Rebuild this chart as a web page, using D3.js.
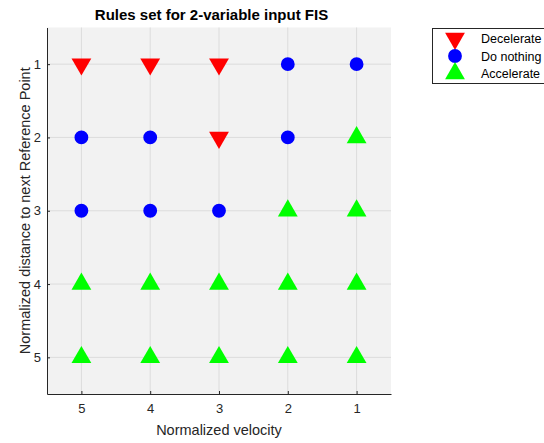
<!DOCTYPE html>
<html>
<head>
<meta charset="utf-8">
<script src="https://cdn.jsdelivr.net/npm/d3@7"></script>
<style>
  html, body { margin: 0; padding: 0; background: #ffffff; }
  svg { display: block; font-family: "Liberation Sans", Arial, sans-serif; }
</style>
</head>
<body>
<svg id="chart" width="544" height="443"></svg>
<script>
// Rule base: rows are distance levels, columns are velocity levels
const velocityLevels = [5, 4, 3, 2, 1];
const distanceLevels = [1, 2, 3, 4, 5];
const actions = ["Decelerate", "Do nothing", "Accelerate"];
// action per (distance row, velocity column in velocityLevels order)
const ruleRows = [
  ["Decelerate", "Decelerate", "Decelerate", "Do nothing", "Do nothing"],
  ["Do nothing", "Do nothing", "Decelerate", "Do nothing", "Accelerate"],
  ["Do nothing", "Do nothing", "Do nothing", "Accelerate", "Accelerate"],
  ["Accelerate", "Accelerate", "Accelerate", "Accelerate", "Accelerate"],
  ["Accelerate", "Accelerate", "Accelerate", "Accelerate", "Accelerate"]
];
const actionColors = ["#ff0000", "#0000ff", "#00ff00"];

const rules = [];
distanceLevels.forEach((d, i) => {
  velocityLevels.forEach((v, j) => {
    rules.push({ velocity: v, distance: d, action: ruleRows[i][j] });
  });
});

const svg = d3.select("#chart");
const plot = { left: 47, right: 391, top: 27.5, bottom: 394 };
const ink = "#262626";

// Both axes are reversed: velocity decreases rightwards, distance increases downwards
const x = d3.scaleLinear().domain([5.5, 0.5]).range([plot.left, plot.right]);
const y = d3.scaleLinear().domain([0.5, 5.5]).range([plot.top, plot.bottom]);
const color = d3.scaleOrdinal().domain(actions).range(actionColors);

const symbolFor = {
  "Decelerate": d3.symbol().type(d3.symbolTriangle).size(170),
  "Do nothing": d3.symbol().type(d3.symbolCircle).size(150),
  "Accelerate": d3.symbol().type(d3.symbolTriangle).size(170)
};
const rotationFor = { "Decelerate": 180, "Do nothing": 0, "Accelerate": 0 };

// plot background
svg.append("rect")
  .attr("x", plot.left).attr("y", plot.top)
  .attr("width", plot.right - plot.left).attr("height", plot.bottom - plot.top)
  .attr("fill", "#f2f2f2");

// grid
const grid = svg.append("g").attr("stroke", "#dcdcdc").attr("stroke-width", 1);
grid.selectAll("line.vx").data(velocityLevels).join("line")
  .attr("x1", d => x(d)).attr("x2", d => x(d))
  .attr("y1", plot.top).attr("y2", plot.bottom);
grid.selectAll("line.hy").data(distanceLevels).join("line")
  .attr("x1", plot.left).attr("x2", plot.right)
  .attr("y1", d => y(d)).attr("y2", d => y(d));

// axes with inward ticks
const xAxis = svg.append("g")
  .attr("transform", `translate(0,${plot.bottom})`)
  .call(d3.axisBottom(x).tickValues(velocityLevels).tickFormat(d3.format("d")).tickSizeInner(-3).tickSizeOuter(0).tickPadding(10));
const yAxis = svg.append("g")
  .attr("transform", `translate(${plot.left},0)`)
  .call(d3.axisLeft(y).tickValues(distanceLevels).tickFormat(d3.format("d")).tickSizeInner(-3).tickSizeOuter(0).tickPadding(6));
[xAxis, yAxis].forEach(g => {
  g.select(".domain").attr("stroke", ink);
  g.selectAll(".tick line").attr("stroke", ink);
  g.selectAll(".tick text").attr("fill", ink).style("font-size", "13px")
    .style("font-family", "'Liberation Sans', Arial, sans-serif");
});

// rule markers
svg.append("g").selectAll("path").data(rules).join("path")
  .attr("d", d => symbolFor[d.action]())
  .attr("transform", d => `translate(${x(d.velocity)},${y(d.distance)}) rotate(${rotationFor[d.action]})`)
  .attr("fill", d => color(d.action));

// title and axis labels
svg.append("text")
  .attr("x", 211.5).attr("y", 19.5)
  .attr("text-anchor", "middle")
  .attr("fill", "#000").style("font-weight", "bold").style("font-size", "15px")
  .text("Rules set for 2-variable input FIS");

svg.append("text")
  .attr("x", (plot.left + plot.right) / 2).attr("y", 435)
  .attr("text-anchor", "middle")
  .attr("fill", ink).style("font-size", "14.5px")
  .text("Normalized velocity");

svg.append("text")
  .attr("transform", `translate(30,${(plot.top + plot.bottom) / 2}) rotate(-90)`)
  .attr("text-anchor", "middle")
  .attr("fill", ink).style("font-size", "14.5px")
  .text("Normalized distance to next Reference Point");

// legend
const legend = svg.append("g").attr("transform", "translate(432,28)");
legend.append("rect")
  .attr("x", 0.5).attr("y", 0.5).attr("width", 130).attr("height", 55)
  .attr("fill", "#ffffff").attr("stroke", ink).attr("stroke-width", 1);
const item = legend.selectAll("g.item").data(actions).join("g")
  .attr("transform", (d, i) => `translate(0,${10.5 + i * 17.5})`);
item.append("path")
  .attr("d", d => symbolFor[d]())
  .attr("transform", d => `translate(23,0) rotate(${rotationFor[d]})`)
  .attr("fill", d => color(d));
item.append("text")
  .attr("x", 49).attr("y", 4.5)
  .attr("fill", "#000").style("font-size", "12.5px")
  .text(d => d);
</script>
</body>
</html>
